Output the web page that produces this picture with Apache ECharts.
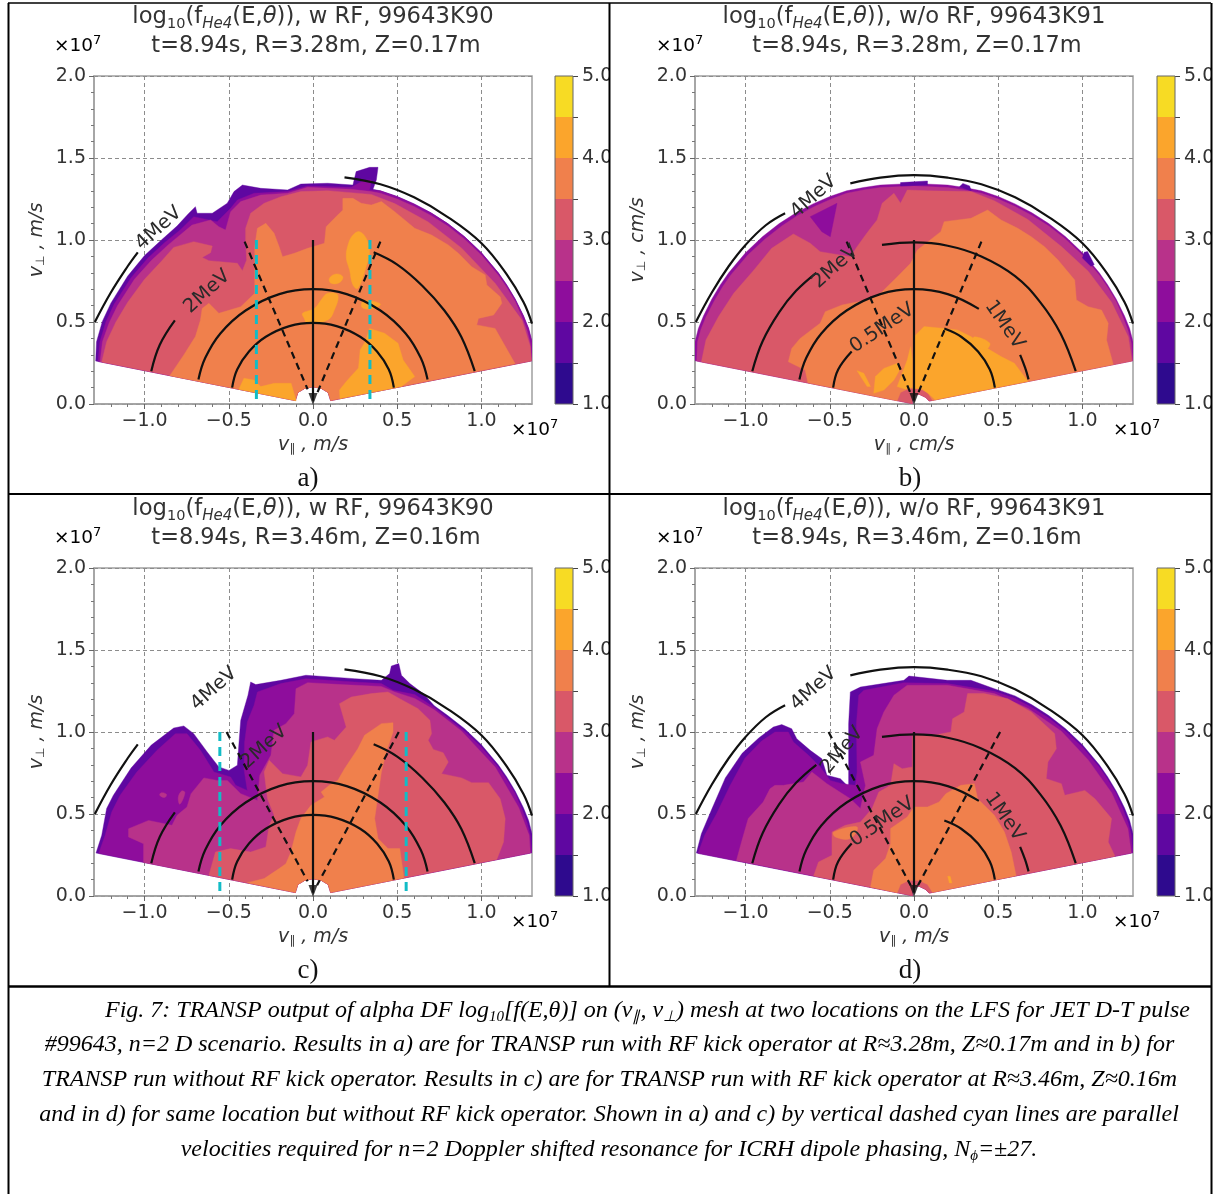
<!DOCTYPE html>
<html><head><meta charset="utf-8"><style>html,body{margin:0;padding:0;background:#fff}#c{width:1226px;height:1194px}</style>
<script src="https://cdn.jsdelivr.net/npm/echarts@6/dist/echarts.min.js"></script></head><body><div id="c"></div>
<script>
// ---- tick labels and levels
const xTicks=[-1,-0.5,0,0.5,1];
const yTicks=[0,0.5,1,1.5,2];
const xMinor=[-1.2,-1.1,-0.9,-0.8,-0.7,-0.6,-0.4,-0.3,-0.2,-0.1,0.1,0.2,0.3,0.4,0.6,0.7,0.8,0.9,1.1,1.2];
const yMinor=[0.1,0.2,0.3,0.4,0.6,0.7,0.8,0.9,1.1,1.2,1.3,1.4,1.6,1.7,1.8,1.9];
const levels=[1,1.5,2,2.5,3,3.5,4,4.5,5];
const cbTickLabels=[1,2,3,4,5];
const palette=['#2e0a8e','#5f07a1','#8e0d9c','#b8328a','#d95868','#f0804c','#fba52c','#f7db24'];
// ---- shared edges of the fan (v_par, v_perp in 1e7 m/s)
const arcR=[[0.4,1.3],[0.5,1.265],[0.6,1.22],[0.7,1.166],[0.8,1.1],[0.9,1.02],[1,0.922],[1.1,0.8],[1.15,0.726],[1.2,0.64],[1.25,0.536],[1.28,0.46],[1.3,0.38],[1.305,0.265]];
const arcRi=[[0.4,1.285],[0.5,1.25],[0.6,1.205],[0.7,1.15],[0.8,1.085],[0.9,1.005],[1,0.907],[1.1,0.785],[1.15,0.71],[1.2,0.625],[1.24,0.53],[1.27,0.45],[1.29,0.37],[1.298,0.263]];
const arcL=[[-1.305,0.265],[-1.3,0.38],[-1.28,0.46],[-1.25,0.536],[-1.2,0.64],[-1.15,0.726],[-1.1,0.8],[-1,0.922],[-0.9,1.02],[-0.8,1.1],[-0.7,1.166],[-0.6,1.22],[-0.5,1.265],[-0.4,1.3],[-0.3,1.32],[-0.2,1.335],[0,1.345],[0.2,1.335],[0.3,1.32]];
const arcLi=[[-1.29,0.262],[-1.285,0.38],[-1.265,0.455],[-1.235,0.53],[-1.185,0.63],[-1.135,0.716],[-1.085,0.79],[-0.985,0.91],[-0.885,1.005],[-0.785,1.085],[-0.69,1.15],[-0.59,1.205],[-0.49,1.25],[-0.4,1.285],[-0.3,1.305],[-0.2,1.32],[0,1.33],[0.2,1.32],[0.3,1.305]];
const holeA=[[0.105,0.021],[0.09,0.07],[0.05,0.095],[0,0.105],[-0.05,0.095],[-0.09,0.07],[-0.105,0.021]];
const holeB=[[0.09,0.018],[0.07,0.04],[0.03,0.06],[-0.01,0.05],[-0.01,0.002],[-0.045,0.009]];
const holeBi=[[0.11,0.022],[0.08,0.07],[0.03,0.095],[-0.03,0.095],[-0.08,0.07],[-0.1,0.02]];
// ---- panel a contours
const a_env=[[-1.29,0.262],[-1.285,0.38],[-1.25,0.505],[-1.2,0.615],[-1.1,0.78],[-1,0.905],[-0.9,1],[-0.807,1.085],[-0.74,1.16],[-0.698,1.203],[-0.688,1.163],[-0.598,1.163],[-0.509,1.224],[-0.469,1.295],[-0.419,1.335],[-0.31,1.315],[-0.151,1.305],[-0.072,1.341],[0.087,1.346],[0.237,1.335],[0.256,1.417],[0.336,1.443],[0.386,1.443],[0.376,1.366],[0.356,1.309]].concat(arcR,holeA);
const a_l20=[[-1.276,0.26],[-1.265,0.38],[-1.23,0.5],[-1.18,0.61],[-1.08,0.77],[-0.98,0.89],[-0.88,0.985],[-0.79,1.06],[-0.708,1.142],[-0.569,1.112],[-0.489,1.193],[-0.449,1.244],[-0.35,1.285],[-0.151,1.295],[-0.032,1.329],[0.227,1.321],[0.306,1.366],[0.346,1.366],[0.336,1.305]].concat(arcR,holeA);
const a_l25=[[-1.264,0.258],[-1.25,0.38],[-1.21,0.495],[-1.16,0.6],[-1.06,0.76],[-0.96,0.875],[-0.86,0.97],[-0.718,1.091],[-0.608,1.122],[-0.559,1.081],[-0.519,1.061],[-0.489,1.173],[-0.429,1.234],[-0.31,1.274],[-0.151,1.285],[-0.032,1.321],[0.227,1.309],[0.346,1.295]].concat(arcRi,holeA);
const a_l30=[[-1.254,0.256],[-1.225,0.38],[-1.17,0.5],[-1.1,0.62],[-1,0.76],[-0.9,0.87],[-0.827,0.955],[-0.708,0.99],[-0.598,0.963],[-0.608,0.923],[-0.658,0.894],[-0.618,0.874],[-0.449,0.858],[-0.419,0.813],[-0.394,0.878],[-0.4,1],[-0.4,1.071],[-0.37,1.163],[-0.29,1.224],[-0.191,1.264],[-0.072,1.295],[0.087,1.301],[0.346,1.278],[0.485,1.222],[0.684,1.11],[0.883,0.95],[1.082,0.735],[1.241,0.51],[1.29,0.35],[1.296,0.262]].concat(holeA);
const a_l35=[[-0.85,0.173],[-0.767,0.299],[-0.698,0.411],[-0.668,0.512],[-0.658,0.583],[-0.618,0.614],[-0.559,0.553],[-0.429,0.593],[-0.346,0.675],[-0.346,0.959],[-0.33,1.071],[-0.28,1.102],[-0.231,1.041],[-0.201,0.959],[-0.181,0.898],[-0.111,0.919],[-0.032,0.949],[0.068,0.98],[0.078,1.081],[0.127,1.132],[0.177,1.183],[0.177,1.254],[0.237,1.254],[0.286,1.224],[0.346,1.213],[0.406,1.234],[0.485,1.173],[0.604,1.071],[0.704,1.03],[0.803,0.97],[0.863,0.919],[0.942,0.837],[1.022,0.787],[1.032,0.726],[1.111,0.654],[1.121,0.614],[1.072,0.543],[0.982,0.522],[0.972,0.482],[1.081,0.461],[1.131,0.37],[1.2,0.245]].concat(holeA);
const a_y1=[[0.211,0.98],[0.237,1.03],[0.276,1.051],[0.316,1.01],[0.336,0.929],[0.316,0.837],[0.266,0.705],[0.237,0.726],[0.217,0.817],[0.197,0.898]];
const a_y2=[[0.097,0.766],[0.137,0.793],[0.177,0.776],[0.157,0.74],[0.107,0.736]];
const a_y3=[[-0.062,0.553],[0.008,0.583],[0.048,0.634],[0.087,0.675],[0.147,0.665],[0.127,0.573],[0.087,0.512],[-0.032,0.492],[-0.052,0.522]];
const a_y4=[[0.336,0.461],[0.425,0.431],[0.505,0.37],[0.535,0.268],[0.604,0.167],[0.525,0.107],[0.16,0.033],[0.157,0.085],[0.2,0.14],[0.27,0.22],[0.28,0.33],[0.31,0.38]];
const a_y5=[[-0.44,0.09],[-0.41,0.157],[-0.35,0.146],[-0.31,0.106],[-0.23,0.126],[-0.13,0.126],[-0.1,0.02]];
const a_y6=[[0.3,0.63],[0.4,0.61],[0.35,0.58],[0.29,0.59]];
// ---- panel b contours
const b_env=arcL.concat(arcR,holeB);
const b_l25=arcLi.concat(arcRi,holeB);
const b_p1=[[-0.616,1.142],[-0.457,1.224],[-0.497,1.02],[-0.547,1.051]];
const b_d1=[[-0.08,1.33],[-0.08,1.35],[0.08,1.36],[0.08,1.335]];
const b_d2=[[0.27,1.325],[0.29,1.345],[0.33,1.33],[0.34,1.3]];
const b_d3=[[1.01,0.925],[1.03,0.93],[1.07,0.85],[1.05,0.84],[1,0.89]];
const b_l30=[[-1.262,0.257],[-1.235,0.39],[-1.16,0.533],[-1.07,0.675],[-0.95,0.817],[-0.845,0.949],[-0.716,1.037],[-0.616,0.98],[-0.557,0.929],[-0.378,0.898],[-0.338,0.959],[-0.288,1.03],[-0.258,1.071],[-0.219,1.122],[-0.189,1.224],[-0.119,1.285],[-0.08,1.224],[-0.04,1.305],[0.08,1.3],[0.338,1.295],[0.477,1.24],[0.676,1.125],[0.875,0.96],[1.034,0.81],[1.173,0.62],[1.272,0.41],[1.294,0.262]].concat(holeB);
const b_l35=[[-0.63,0.129],[-0.646,0.207],[-0.746,0.258],[-0.726,0.339],[-0.676,0.4],[-0.557,0.492],[-0.527,0.563],[-0.427,0.604],[-0.258,0.638],[-0.189,0.685],[-0.099,0.776],[-0.02,0.858],[0.02,0.939],[0.159,1.051],[0.179,1.112],[0.338,1.132],[0.437,1.183],[0.517,1.122],[0.616,1.071],[0.696,1.02],[0.775,0.959],[0.855,0.878],[0.954,0.756],[0.964,0.634],[1.034,0.593],[1.113,0.573],[1.153,0.492],[1.143,0.39],[1.183,0.241]].concat(holeBi);
const b_y1=[[0,0.095],[0,0.411],[0.06,0.472],[0.179,0.461],[0.258,0.451],[0.338,0.411],[0.417,0.35],[0.517,0.289],[0.596,0.248],[0.676,0.138],[0.125,0.026],[0.09,0.06],[0.05,0.09]];
const b_y2=[[-0.1,0.106],[-0.07,0.187],[-0.04,0.268],[-0.02,0.35],[-0.01,0.268],[-0.01,0.1],[-0.05,0.09]];
const b_y3=[[-0.239,0.065],[-0.229,0.167],[-0.179,0.217],[-0.099,0.248],[-0.08,0.217],[-0.119,0.146],[-0.179,0.085]];
const b_y4=[[-0.338,0.203],[-0.298,0.187],[-0.258,0.106],[-0.278,0.106]];
const b_y5=[[0.36,0.41],[0.45,0.37],[0.42,0.33],[0.35,0.38]];
// ---- panel c contours
const c_env=[[-1.288,0.262],[-1.254,0.37],[-1.225,0.533],[-1.185,0.614],[-1.08,0.78],[-0.96,0.92],[-0.827,1.024],[-0.767,1.037],[-0.708,0.99],[-0.628,0.878],[-0.559,0.787],[-0.499,0.766],[-0.449,0.797],[-0.439,0.939],[-0.429,1.071],[-0.386,1.224],[-0.37,1.305],[-0.34,1.289],[-0.191,1.315],[-0.042,1.346],[0.247,1.325],[0.406,1.315],[0.455,1.356],[0.465,1.402],[0.509,1.417],[0.525,1.346],[0.575,1.295],[0.654,1.234],[0.72,1.16]].concat(arcR.slice(4),holeA);
const c_l20=[[-1.272,0.26],[-1.234,0.37],[-1.195,0.512],[-1.145,0.614],[-1.046,0.756],[-0.926,0.888],[-0.817,0.99],[-0.748,0.99],[-0.668,0.888],[-0.588,0.756],[-0.489,0.726],[-0.459,0.675],[-0.39,0.644],[-0.41,0.776],[-0.406,0.939],[-0.39,1.061],[-0.35,1.163],[-0.33,1.244],[-0.191,1.295],[-0.042,1.325],[0.247,1.305],[0.406,1.295],[0.475,1.254],[0.604,1.228],[0.72,1.15]].concat(arcRi.slice(4),holeA);
const c_l25=[[-1.006,0.205],[-1.006,0.319],[-1.095,0.36],[-1.095,0.41],[-0.976,0.461],[-0.837,0.431],[-0.807,0.492],[-0.748,0.543],[-0.724,0.624],[-0.648,0.72],[-0.569,0.705],[-0.509,0.705],[-0.429,0.624],[-0.33,0.583],[-0.316,0.736],[-0.25,0.858],[-0.231,1.01],[-0.161,1.051],[-0.111,1.112],[-0.101,1.264],[-0.032,1.301],[0.167,1.289],[0.406,1.278],[0.485,1.244],[0.604,1.205],[0.72,1.135],[0.883,1.005],[1.082,0.785],[1.221,0.54],[1.283,0.37],[1.29,0.262]].concat(holeA);
const c_l25b=[[-0.9,0.63],[-0.87,0.62],[-0.88,0.6],[-0.91,0.615]];
const c_l25c=[[-0.8,0.6],[-0.78,0.64],[-0.76,0.63],[-0.79,0.56]];
const c_l30=[[-0.618,0.126],[-0.579,0.268],[-0.489,0.289],[-0.37,0.268],[-0.28,0.299],[-0.26,0.431],[-0.231,0.492],[-0.27,0.593],[-0.29,0.756],[-0.26,0.827],[-0.181,0.746],[-0.072,0.726],[-0.032,0.797],[-0.012,0.939],[0.087,0.97],[0.127,0.949],[0.197,1.03],[0.157,1.173],[0.227,1.213],[0.346,1.234],[0.445,1.244],[0.515,1.203],[0.624,1.142],[0.694,1.071],[0.704,0.99],[0.684,0.949],[0.714,0.894],[0.773,0.874],[0.803,0.817],[0.763,0.746],[0.883,0.72],[0.942,0.691],[1.042,0.691],[1.111,0.593],[1.141,0.472],[1.131,0.329],[1.091,0.223]].concat(holeA);
const c_l35=[[-0.39,0.081],[-0.29,0.106],[-0.201,0.167],[-0.161,0.197],[-0.131,0.268],[-0.101,0.39],[-0.072,0.472],[-0.012,0.553],[0.068,0.604],[0.048,0.634],[0.097,0.675],[0.147,0.705],[0.187,0.776],[0.266,0.898],[0.306,0.98],[0.406,1.051],[0.475,1.057],[0.475,1],[0.435,0.878],[0.406,0.756],[0.386,0.614],[0.366,0.472],[0.386,0.35],[0.445,0.289],[0.515,0.289],[0.54,0.11]].concat(holeA);
// ---- panel d contours
const d_env=[[-1.292,0.262],[-1.262,0.38],[-1.2,0.53],[-1.12,0.72],[-1.02,0.87],[-0.92,0.965],[-0.835,1.03],[-0.785,1.045],[-0.726,1.02],[-0.696,0.959],[-0.616,0.888],[-0.547,0.837],[-0.517,0.736],[-0.437,0.715],[-0.388,0.665],[-0.388,0.776],[-0.388,1.051],[-0.378,1.244],[-0.318,1.274],[-0.06,1.315],[-0.03,1.341],[0.199,1.315],[0.338,1.315],[0.477,1.264]].concat(arcR.slice(2),holeB);
const d_l20=[[-1.282,0.26],[-1.243,0.37],[-1.173,0.5],[-1.093,0.67],[-1.004,0.84],[-0.905,0.945],[-0.825,1],[-0.746,1],[-0.716,0.939],[-0.626,0.858],[-0.557,0.787],[-0.497,0.705],[-0.427,0.685],[-0.348,0.675],[-0.338,0.756],[-0.342,1.051],[-0.328,1.224],[-0.298,1.254],[-0.06,1.301],[0.199,1.295],[0.477,1.248]].concat(arcRi.slice(2),holeB);
const d_l25=[[-1.054,0.217],[-1.024,0.329],[-0.984,0.472],[-0.895,0.573],[-0.855,0.654],[-0.825,0.675],[-0.775,0.675],[-0.656,0.695],[-0.606,0.756],[-0.517,0.685],[-0.378,0.593],[-0.318,0.533],[-0.288,0.675],[-0.318,0.817],[-0.239,0.858],[-0.219,1.02],[-0.179,1.122],[-0.119,1.224],[-0.04,1.285],[0.199,1.285],[0.477,1.234],[0.676,1.145],[0.875,1.005],[1.034,0.83],[1.173,0.63],[1.27,0.41],[1.29,0.262]].concat(holeB);
const d_l30=[[-0.596,0.122],[-0.567,0.207],[-0.487,0.248],[-0.487,0.39],[-0.408,0.431],[-0.318,0.451],[-0.249,0.533],[-0.209,0.634],[-0.139,0.675],[-0.119,0.807],[-0.07,0.776],[-0.01,0.787],[-0.01,0.98],[0.139,0.984],[0.219,1],[0.229,1.081],[0.298,1.122],[0.318,1.234],[0.417,1.234],[0.557,1.203],[0.696,1.122],[0.835,0.99],[0.845,0.898],[0.795,0.817],[0.785,0.715],[0.875,0.685],[0.895,0.614],[1.014,0.644],[1.074,0.593],[1.173,0.472],[1.153,0.329],[1.193,0.243]].concat(holeB);
const d_l35=[[-0.258,0.055],[-0.239,0.157],[-0.169,0.228],[-0.139,0.319],[-0.139,0.411],[-0.04,0.482],[0,0.543],[0.08,0.543],[0.149,0.573],[0.189,0.624],[0.278,0.675],[0.358,0.685],[0.378,0.593],[0.477,0.492],[0.537,0.39],[0.577,0.268],[0.606,0.124]].concat(holeBi);
const d_o2=[[-0.477,0.39],[-0.338,0.421],[-0.378,0.35],[-0.467,0.36]];
const d_y1=[[0.2,0.12],[0.215,0.12],[0.225,0.08],[0.21,0.08]];
// ---- energy contours (MeV circles)
const arc05=[[-0.48,0.1],[-0.45,0.21],[-0.38,0.32],[-0.28,0.41],[-0.14,0.475],[0,0.495],[0.14,0.475],[0.28,0.41],[0.38,0.32],[0.45,0.21],[0.48,0.1]];
const arc07=[[-0.68,0.15],[-0.64,0.28],[-0.55,0.43],[-0.4,0.57],[-0.2,0.67],[0,0.7],[0.2,0.67],[0.4,0.57],[0.55,0.43],[0.64,0.28],[0.68,0.15]];
const arc05L=[[-0.48,0.1],[-0.45,0.21],[-0.37,0.32]];
const arc05R=[[0.18,0.46],[0.28,0.41],[0.38,0.32],[0.45,0.21],[0.48,0.1]];
const arc07a=[[-0.68,0.15],[-0.64,0.28],[-0.55,0.43],[-0.4,0.57],[-0.2,0.67],[0,0.7],[0.2,0.67],[0.385,0.58]];
const arc07b=[[0.63,0.3],[0.66,0.22],[0.68,0.15]];
const arc10L=[[-0.96,0.2],[-0.91,0.36],[-0.82,0.51]];
const arc10R=[[0.36,0.925],[0.5,0.85],[0.65,0.72],[0.78,0.57],[0.88,0.41],[0.96,0.2]];
const arc10Lb=[[-0.96,0.2],[-0.9,0.38],[-0.8,0.56],[-0.7,0.69],[-0.58,0.8]];
const arc10Tb=[[-0.19,0.97],[0,0.985],[0.2,0.965],[0.4,0.9],[0.6,0.78],[0.75,0.62],[0.87,0.43],[0.96,0.2]];
const arc14L=[[-1.295,0.5],[-1.2,0.68],[-1.1,0.84],[-1.04,0.925]];
const arc14Lb=[[-1.295,0.5],[-1.2,0.68],[-1.1,0.84],[-1,0.97],[-0.88,1.09],[-0.765,1.163]];
const arc14R=[[0.187,1.382],[0.4,1.34],[0.6,1.26],[0.8,1.14],[1,0.98],[1.15,0.79],[1.25,0.62],[1.3,0.49]];
const arc14Tb=[[-0.378,1.345],[-0.2,1.38],[0,1.395],[0.2,1.38],[0.4,1.34],[0.6,1.26],[0.8,1.14],[1,0.98],[1.15,0.79],[1.25,0.62],[1.3,0.49]];
// ---- straight markers
const centre=[[0,1],[0,0.02]];
const arrowTip=[[0,0.03]];
const a_dashL=[[-0.406,0.99],[-0.032,0.09]], a_dashR=[[0.4,0.99],[0.024,0.065]];
const b_dashL=[[-0.4,0.99],[-0.02,0.065]], b_dashR=[[0.4,0.99],[0.024,0.065]];
const c_dashL=[[-0.513,1],[-0.032,0.09]], c_dashR=[[0.509,1],[0.024,0.065]];
const d_dashL=[[-0.507,1],[-0.02,0.065]], d_dashR=[[0.511,1],[0.024,0.065]];
const a_cyanL=[[-0.336,1],[-0.336,0]], a_cyanR=[[0.338,1],[0.338,0]];
const c_cyanL=[[-0.553,1],[-0.553,0]], c_cyanR=[[0.553,1],[0.553,0]];
// ---- rotated contour labels [v_par, v_perp, text, degrees]
const a_text=[[-0.916,1.071,'4MeV',42],[-0.628,0.685,'2MeV',42]];
const b_text=[[-0.596,1.264,'4MeV',42],[-0.467,0.837,'2MeV',42],[-0.189,0.461,'0.5MeV',34],[0.537,0.482,'1MeV',-55]];
const c_text=[[-0.588,1.264,'4MeV',42],[-0.29,0.909,'2MeV',42]];
const d_text=[[-0.596,1.264,'4MeV',42],[-0.427,0.888,'2MeV',50],[-0.189,0.451,'0.5MeV',34],[0.537,0.482,'1MeV',-55]];
// ---- panels (third layer entry: rounded island)
const panels=[
 {name:'a)',run:'w RF, 99643K90',loc:'t=8.94s, R=3.28m, Z=0.17m',unit:'m/s',left:94,top:76,cb:555,
  layers:[[a_env,1],[a_l20,2],[a_l25,3],[a_l30,4],[a_l35,5],[a_y1,6,1],[a_y2,6,1],[a_y3,6,1],[a_y4,6],[a_y5,6],[a_y6,6,1]],
  lines:[arc05,arc07,arc10L,arc10R,arc14L,arc14R],dashes:[a_dashL,a_dashR],cyan:[a_cyanL,a_cyanR],text:a_text},
 {name:'b)',run:'w/o RF, 99643K91',loc:'t=8.94s, R=3.28m, Z=0.17m',unit:'cm/s',left:695,top:76,cb:1157,
  layers:[[b_env,2],[b_l25,3],[b_p1,2],[b_d1,1],[b_d2,1],[b_d3,1],[b_l30,4],[b_l35,5],[b_y1,6],[b_y2,6],[b_y3,6],[b_y4,6],[b_y5,6,1]],
  lines:[arc05L,arc05R,arc07a,arc07b,arc10Lb,arc10Tb,arc14Lb,arc14Tb],dashes:[b_dashL,b_dashR],cyan:[],text:b_text},
 {name:'c)',run:'w RF, 99643K90',loc:'t=8.94s, R=3.46m, Z=0.16m',unit:'m/s',left:94,top:568,cb:555,
  layers:[[c_env,1],[c_l20,2],[c_l25,3],[c_l25b,3,1],[c_l25c,3,1],[c_l30,4],[c_l35,5]],
  lines:[arc05,arc07,arc10L,arc10R,arc14L,arc14R],dashes:[c_dashL,c_dashR],cyan:[c_cyanL,c_cyanR],text:c_text},
 {name:'d)',run:'w/o RF, 99643K91',loc:'t=8.94s, R=3.46m, Z=0.16m',unit:'m/s',left:695,top:568,cb:1157,
  layers:[[d_env,1],[d_l20,2],[d_l25,3],[d_l30,4],[d_o2,5,1],[d_l35,5],[d_y1,6]],
  lines:[arc05L,arc05R,arc07a,arc07b,arc10Lb,arc10Tb,arc14Lb,arc14Tb],dashes:[d_dashL,d_dashR],cyan:[],text:d_text}
];
const F='"DejaVu Sans"', INK='#333', GREY='#a0a0a0';
const W=438,H=328,CBW=18;
const grids=[],xAxes=[],yAxes=[],series=[],titles=[],gfx=[];
const fmt=v=>v.toFixed(1).replace('-','\u2212');
function lineS(g,data,style){return {type:'line',xAxisIndex:g,yAxisIndex:g,data,symbol:'none',smooth:data.length>2?0.4:false,silent:true,animation:false,lineStyle:style,z:5};}
const rich={v:{fontFamily:F,fontStyle:'italic',fontSize:19,color:INK},s:{fontFamily:F,fontSize:12,color:INK,verticalAlign:'bottom',lineHeight:20},u:{fontFamily:F,fontStyle:'italic',fontSize:19,color:INK}};
panels.forEach((p,k)=>{
 const g=grids.length;
 grids.push({left:p.left,top:p.top,width:W,height:H,show:true,borderColor:GREY,borderWidth:1.5,backgroundColor:'transparent'});
 xAxes.push({gridIndex:g,type:'value',min:-1.3,max:1.3,name:'{v|v}{s|\u2225}{u| , '+p.unit+'}',nameLocation:'middle',nameGap:31,nameTextStyle:{rich},
  axisLine:{show:true,onZero:false,lineStyle:{color:GREY,width:1.5}},axisTick:{customValues:xTicks,length:5,lineStyle:{color:'#666'}},
  axisLabel:{customValues:xTicks,formatter:fmt,fontFamily:F,fontSize:19,color:INK,margin:8},
  splitLine:{show:true,lineStyle:{color:'#8c8c8c',type:[4,3],width:1}}});
 yAxes.push({gridIndex:g,type:'value',min:0,max:2,name:'{v|v}{s|\u22a5}{u| , '+p.unit+'}',nameLocation:'middle',nameGap:47,nameTextStyle:{rich},
  axisLine:{show:true,onZero:false,lineStyle:{color:GREY,width:1.5}},axisTick:{customValues:yTicks,length:5,lineStyle:{color:'#666'}},
  axisLabel:{customValues:yTicks,formatter:fmt,fontFamily:F,fontSize:19,color:INK,margin:8},
  splitLine:{show:true,lineStyle:{color:'#8c8c8c',type:[4,3],width:1}}});
});
panels.forEach((p,k)=>{
 const g=k;
 series.push({type:'custom',xAxisIndex:g,yAxisIndex:g,coordinateSystem:'cartesian2d',silent:true,animation:false,z:3,clip:true,
  data:p.layers.map((l,i)=>[i]),
  renderItem:(params,api)=>{const l=p.layers[params.dataIndex];return {type:'polygon',shape:{points:l[0].map(q=>api.coord(q)),smooth:l[2]?0.4:0},style:{fill:palette[l[1]],stroke:palette[l[1]],lineWidth:0.4}};}});
 p.lines.forEach(d=>series.push(lineS(g,d,{color:'#111',width:2.2})));
 p.dashes.forEach(d=>series.push(lineS(g,d,{color:'#111',width:2.2,type:[7,5]})));
 p.cyan.forEach(d=>series.push(lineS(g,d,{color:'#12bcc6',width:3,type:[9,6]})));
 series.push(lineS(g,centre,{color:'#111',width:2.2}));
 series.push({type:'scatter',xAxisIndex:g,yAxisIndex:g,data:arrowTip,symbol:'triangle',symbolRotate:180,symbolSize:[9,12],itemStyle:{color:'#111'},silent:true,animation:false,z:6});
 series.push({type:'custom',xAxisIndex:g,yAxisIndex:g,coordinateSystem:'cartesian2d',silent:true,animation:false,z:7,clip:false,
  data:p.text.map((t,i)=>[t[0],t[1]]),
  renderItem:(params,api)=>{const t=p.text[params.dataIndex],c=api.coord([t[0],t[1]]);return {type:'text',x:c[0],y:c[1],rotation:t[3]*Math.PI/180,style:{text:t[2],fontFamily:F,fontSize:19.5,fill:'#2a2a2a',align:'center',verticalAlign:'middle'}};}});
});
// minor ticks
panels.forEach((p,k)=>{
 xAxes.push({gridIndex:k,type:'value',min:-1.3,max:1.3,position:'bottom',axisLine:{show:false,onZero:false},axisLabel:{show:false},splitLine:{show:false},axisTick:{customValues:xMinor,length:3,lineStyle:{color:'#777'}}});
 yAxes.push({gridIndex:k,type:'value',min:0,max:2,position:'left',axisLine:{show:false,onZero:false},axisLabel:{show:false},splitLine:{show:false},axisTick:{customValues:yMinor,length:3,lineStyle:{color:'#777'}}});
});
// colour bars
panels.forEach((p,k)=>{
 const g=grids.length;
 grids.push({left:p.cb,top:p.top,width:CBW,height:H,show:false});
 xAxes.push({gridIndex:g,type:'value',min:0,max:1,show:false});
 yAxes.push({gridIndex:g,type:'value',min:1,max:5,position:'right',show:true,
  axisLine:{show:false,onZero:false},splitLine:{show:false},axisTick:{customValues:levels,length:5,lineStyle:{color:'#444'}},
  axisLabel:{customValues:cbTickLabels,formatter:v=>v.toFixed(1),fontFamily:F,fontSize:19,color:INK,margin:9}});
 series.push({type:'custom',xAxisIndex:xAxes.length-1,yAxisIndex:yAxes.length-1,coordinateSystem:'cartesian2d',silent:true,animation:false,
  data:palette.map((c,i)=>[levels[i],levels[i+1]]),
  renderItem:(params,api)=>{const lo=api.coord([0,api.value(0)]),hi=api.coord([1,api.value(1)]);return {type:'rect',shape:{x:lo[0],y:hi[1],width:hi[0]-lo[0],height:lo[1]-hi[1]},style:{fill:palette[params.dataIndex]}};}});
 gfx.push({type:'rect',z:55,shape:{x:p.cb,y:p.top,width:CBW,height:H},style:{fill:'none',stroke:'#666',lineWidth:1}});
 // titles and free text
 const cx=p.left+219, top=p.top-76;
 const tr={n:{fontFamily:F,fontWeight:'normal',fontSize:22.7,color:INK},s:{fontFamily:F,fontWeight:'normal',fontSize:14.5,color:INK,verticalAlign:'bottom',lineHeight:30},si:{fontFamily:F,fontWeight:'normal',fontStyle:'italic',fontSize:15,color:INK,verticalAlign:'bottom',lineHeight:30},i:{fontFamily:F,fontWeight:'normal',fontStyle:'italic',fontSize:22.7,color:INK}};
 titles.push({left:cx,top:top+2,padding:0,textAlign:'center',text:'{n|log}{s|10}{n|(f}{si|He4}{n|(E,}{i|\u03b8}{n|)), '+p.run+'}',textStyle:{fontWeight:'normal',rich:tr}});
 titles.push({left:cx+3,top:top+35,padding:0,textAlign:'center',text:p.loc,textStyle:{fontFamily:F,fontSize:22.4,fontWeight:'normal',color:INK}});
 const sci={b:{fontFamily:F,fontSize:18.5,color:INK},e:{fontFamily:F,fontSize:13,color:INK,verticalAlign:'top',lineHeight:24}};
 const tx=p.left>300?696:94;
 gfx.push({type:'text',z:60,style:{x:tx-40,y:p.top-30,text:'{b|\u00d710}{e|7}',rich:sci,verticalAlign:'middle'}});
 gfx.push({type:'text',z:60,style:{x:tx+417,y:p.top+354,text:'{b|\u00d710}{e|7}',rich:sci,verticalAlign:'middle'}});
 gfx.push({type:'text',z:60,style:{x:tx+214,y:p.top+403,text:p.name,fontFamily:'"Liberation Serif"',fontSize:27,fill:'#111',align:'center',verticalAlign:'middle'}});
});
// table frame and clipped cells
[[610,0,14,500],[610,492,14,500],[1212,0,14,1000]].forEach(r=>gfx.push({type:'rect',z:50,shape:{x:r[0],y:r[1],width:r[2],height:r[3]},style:{fill:'#fff'}}));
[[8,3,1211,3,1.5],[8,494,1211,494,2],[8,986.5,1211,986.5,2.5],[8.5,3,8.5,1194,2],[609.5,3,609.5,986,2],[1211.5,3,1211.5,1194,2]].forEach(l=>gfx.push({type:'line',z:70,shape:{x1:l[0],y1:l[1],x2:l[2],y2:l[3]},style:{stroke:'#000',lineWidth:l[4]}}));
// caption
const capRich={c:{fontFamily:'"Liberation Serif"',fontStyle:'italic',fontSize:24,color:'#111'},s:{fontFamily:'"Liberation Serif"',fontStyle:'italic',fontSize:15,color:'#111',verticalAlign:'bottom',lineHeight:27}};
const caption=[
 [647.5,1011,'{c|Fig. 7: TRANSP output of alpha DF log}{s|10}{c|[f(E,\u03b8)] on (v}{s|\u2225}{c|, v}{s|\u22a5}{c|) mesh at two locations on the LFS for JET D-T pulse}'],
 [609.5,1045,'{c|#99643, n=2 D scenario. Results in a) are for TRANSP run with RF kick operator at R\u22483.28m, Z\u22480.17m and in b) for}'],
 [609.5,1080,'{c|TRANSP run without RF kick operator. Results in c) are for TRANSP run with RF kick operator at R\u22483.46m, Z\u22480.16m}'],
 [609,1115,'{c|and in d) for same location but without RF kick operator. Shown in a) and c) by vertical dashed cyan lines are parallel}'],
 [609,1150,'{c|velocities required for n=2 Doppler shifted resonance for ICRH dipole phasing, N}{s|\u03d5}{c|=\u00b127.}']
];
caption.forEach(l=>gfx.push({type:'text',z:60,style:{x:l[0],y:l[1],text:l[2],rich:capRich,align:'center',verticalAlign:'middle'}}));
const chart=echarts.init(document.getElementById('c'),null,{renderer:'canvas'});
chart.setOption({animation:false,backgroundColor:'#fff',title:titles,grid:grids,xAxis:xAxes,yAxis:yAxes,series,graphic:{elements:gfx},tooltip:{show:false},legend:{show:false}});
</script></body></html>
